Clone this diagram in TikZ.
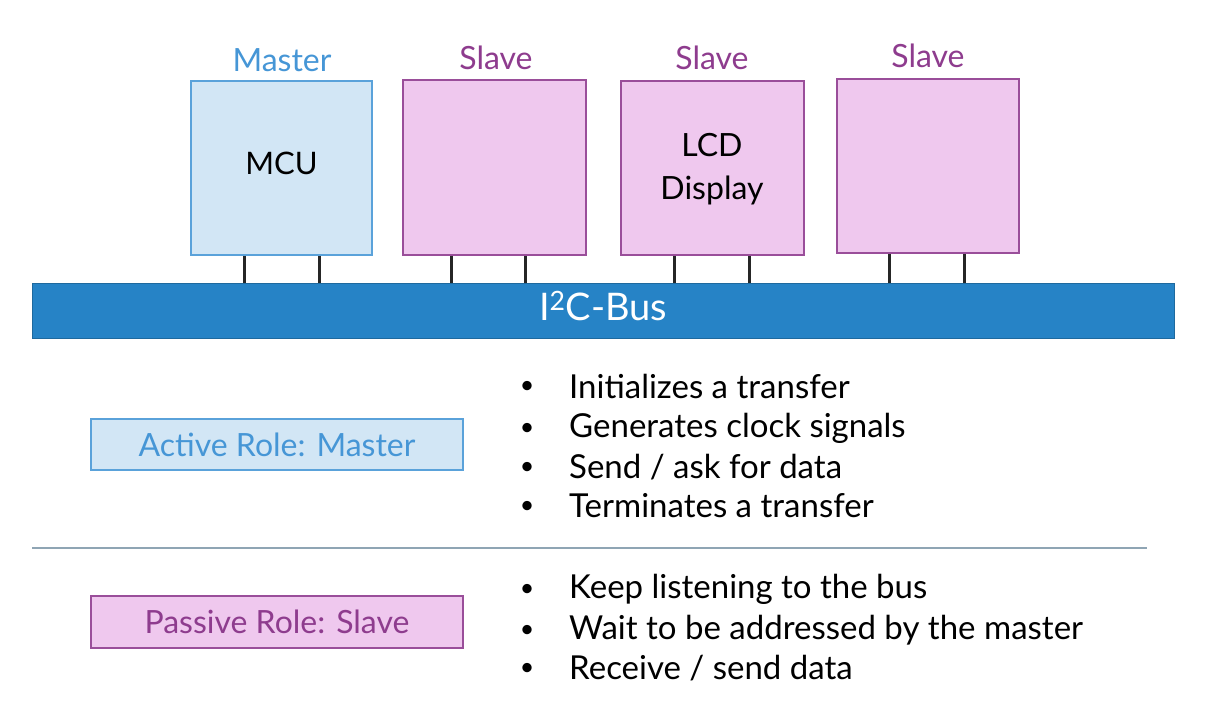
\documentclass[tikz,border=0pt]{standalone}
\usepackage{fontspec}
\setmainfont{Lato}
\definecolor{mfill}{HTML}{D2E6F5}
\definecolor{mline}{HTML}{5AA2DA}
\definecolor{mtext}{HTML}{4696D6}
\definecolor{sfill}{HTML}{EFC8EE}
\definecolor{sline}{HTML}{9A4E9A}
\definecolor{stext}{HTML}{8E3C8E}
\definecolor{busc}{HTML}{2683C6}
\definecolor{divc}{HTML}{8FA5B4}
\begin{document}
\begin{tikzpicture}[x=1pt,y=-1pt,
  mbox/.style={draw=mline,fill=mfill,line width=1.6pt,inner sep=0pt},
  sbox/.style={draw=sline,fill=sfill,line width=1.6pt,inner sep=0pt},
  lbl/.style={font=\fontsize{32}{36}\selectfont,inner sep=0pt},
  pin/.style={line width=3pt,black!85},
  item/.style={font=\fontsize{33}{36}\selectfont,anchor=west,inner sep=0pt},
  dot/.style={font=\fontsize{25}{30}\selectfont,inner sep=0pt}]
\useasboundingbox (0,0) rectangle (1213,704);
% bus
\node[fill=busc,draw=busc!80!black,line width=0.6pt,minimum width=1142pt,minimum height=55pt,inner sep=0pt] (bus) at (603,310.5) {};
\node[font=\fontsize{38}{42}\selectfont,text=white,inner sep=0pt] (bustxt) at (603,306) {I\textsuperscript{2}C-Bus};
% devices
\node[mbox,minimum width=181pt,minimum height=174pt] (mcu) at (281.5,168) {};
\node[lbl,font=\fontsize{31}{36}\selectfont] (mcutxt) at (281.5,163) {MCU};
\node[lbl,text=mtext] (mlab) at (282,60) {Master};
\node[sbox,minimum width=183pt,minimum height=175pt] (s1) at (494.5,167.5) {};
\node[lbl,text=stext] (s1lab) at (496,58) {Slave};
\node[sbox,minimum width=183pt,minimum height=174pt] (lcd) at (712.5,168) {};
\node[lbl,align=center,font=\fontsize{32}{43}\selectfont] (lcdtxt) at (712,169) {LCD\\Display};
\node[lbl,text=stext] (s2lab) at (712,58) {Slave};
\node[sbox,minimum width=182pt,minimum height=174pt] (s3) at (928,166) {};
\node[lbl,text=stext] (s3lab) at (928,56) {Slave};
% pins
\foreach \n/\a/\b in {mcu/244/319, s1/451/525, lcd/674/749, s3/889/964}{
  \coordinate (\n pa) at (\a,0);
  \coordinate (\n pb) at (\b,0);
  \draw[pin] (\n.south -| \n pa) -- (bus.north -| \n pa);
  \draw[pin] (\n.south -| \n pb) -- (bus.north -| \n pb);
}
% roles
\node[mbox,line width=2pt,minimum width=372pt,minimum height=51pt,text=mtext,font=\fontsize{32}{36}\selectfont] (active) at (277,444.5) {Active Role: Master};
\node[sbox,line width=2pt,minimum width=372pt,minimum height=52pt,text=stext,font=\fontsize{32}{36}\selectfont] (passive) at (277,622) {Passive Role: Slave};
% divider
\coordinate (dl) at (32,548);
\coordinate (dr) at (1147,548);
\draw[divc,line width=1.6pt] (dl) -- (dr);
% bullets
\node[dot] (b1) at (527,387) {•};
\node[item] (t1) at (569,386) {Initializes a transfer};
\node[dot] (b2) at (527,429) {•};
\node[item] (t2) at (569,428) {Generates clock signals};
\node[dot] (b3) at (527,468) {•};
\node[item] (t3) at (569,467) {Send / ask for data};
\node[dot] (b4) at (527,507) {•};
\node[item] (t4) at (569,506) {Terminates a transfer};
\node[dot] (b5) at (527,590) {•};
\node[item] (t5) at (569,589) {Keep listening to the bus};
\node[dot] (b6) at (527,631) {•};
\node[item] (t6) at (569,630) {Wait to be addressed by the master};
\node[dot] (b7) at (527,669) {•};
\node[item] (t7) at (569,668) {Receive / send data};
\end{tikzpicture}
\end{document}
